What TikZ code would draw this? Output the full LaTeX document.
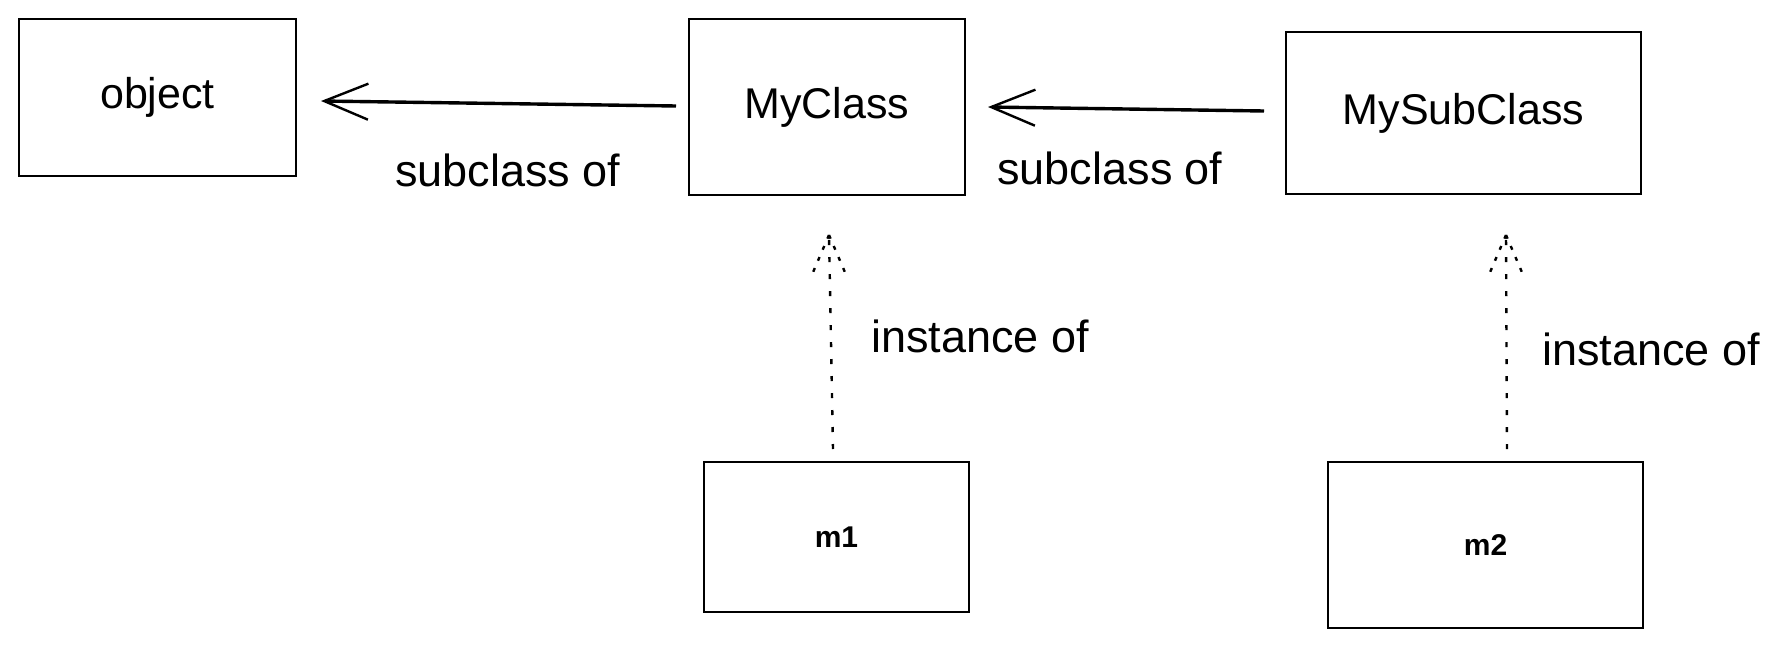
\documentclass[tikz,border=0pt]{standalone}
\usepackage{fontspec}
\setmainfont{Liberation Sans}
\usetikzlibrary{arrows.meta}
\begin{document}
\begin{tikzpicture}[x=1pt,y=-1pt,
  box/.style={draw,line width=2.4pt,inner sep=0pt},
  lbl/.style={font=\fontsize{45}{54}\selectfont},
  boxlbl/.style={font=\fontsize{43}{52}\selectfont},
  smalllbl/.style={font=\bfseries\fontsize{30}{36}\selectfont},
  subarrow/.style={line width=3.4pt,-{Straight Barb[length=44pt,width=36pt,line width=2.4pt]}},
  dotline/.style={line width=2.4pt,dash pattern=on 5pt off 12pt},
  dothead/.style={line width=2.4pt,dash pattern=on 4pt off 8pt}]
\useasboundingbox (0,0) rectangle (1781,648);
% boxes
\node[box,minimum width=277pt,minimum height=157pt,boxlbl] (obj) at (157.5,97.5) {object};
\node[box,minimum width=276pt,minimum height=176pt,boxlbl] (myc) at (827,107) {MyClass};
\node[box,minimum width=355pt,minimum height=162pt,boxlbl] (mysub) at (1463.5,113) {MySubClass};
\node[box,minimum width=265pt,minimum height=150pt,smalllbl] (m1) at (836.5,537) {m1};
\node[box,minimum width=315pt,minimum height=166pt,smalllbl] (m2) at (1485.5,545) {m2};
% subclass arrows
\coordinate (a1s) at (676,106);
\coordinate (a1e) at (321,101);
\coordinate (a2s) at (1264,111);
\coordinate (a2e) at (988,107);
\draw[subarrow] (a1s) -- (a1e);
\draw[subarrow] (a2s) -- (a2e);
\node[lbl] (l1) at (508,170) {subclass of};
\node[lbl] (l2) at (1110,168) {subclass of};
% instance arrows
\coordinate (b1s) at (833,449);
\coordinate (b1e) at (829,235);
\coordinate (b1l) at (811,277);
\coordinate (b1r) at (847,277);
\coordinate (b2s) at (1507,449);
\coordinate (b2e) at (1506,235);
\coordinate (b2l) at (1488,277);
\coordinate (b2r) at (1524,277);
\draw[dotline] (b1s) -- (b1e);
\draw[dothead] (b1e) -- (b1l);
\draw[dothead] (b1e) -- (b1r);
\draw[dotline] (b2s) -- (b2e);
\draw[dothead] (b2e) -- (b2l);
\draw[dothead] (b2e) -- (b2r);
\node[lbl] (l3) at (980,336) {instance of};
\node[lbl] (l4) at (1651,349) {instance of};
\end{tikzpicture}
\end{document}
